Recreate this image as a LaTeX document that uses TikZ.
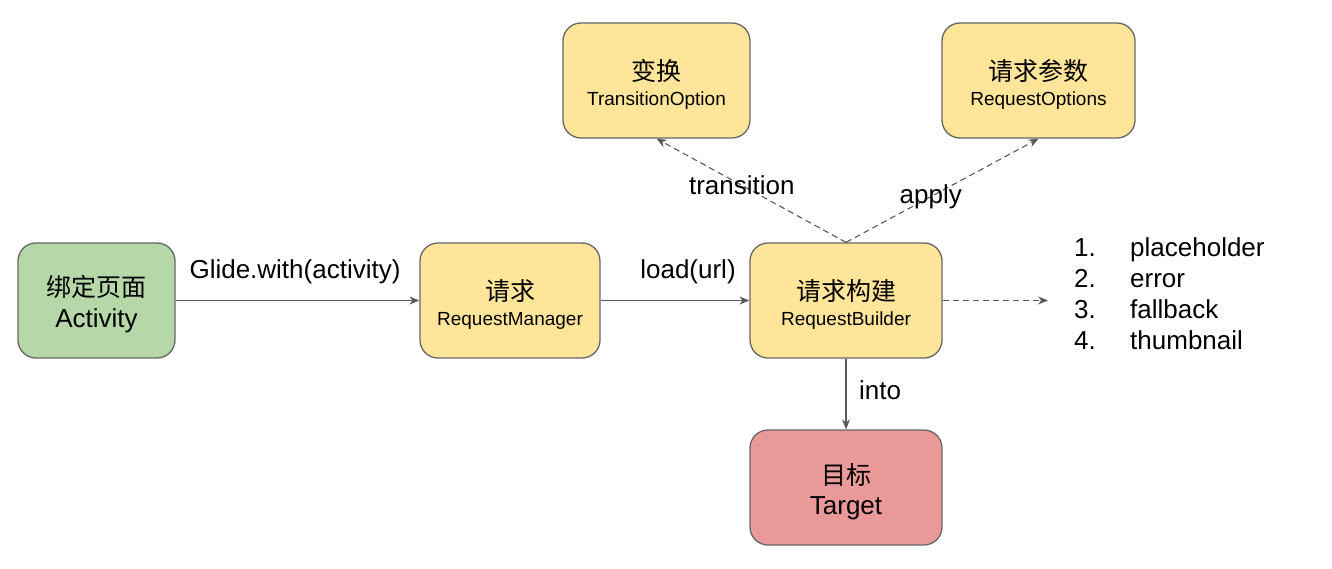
\documentclass[tikz,border=0pt]{standalone}
\usepackage{fontspec}
\setmainfont{Liberation Sans}
\newfontfamily\cjk{Noto Sans CJK SC}
\usetikzlibrary{arrows.meta}
\definecolor{gfill}{HTML}{B6D7A8}
\definecolor{yfill}{HTML}{FFE599}
\definecolor{rfill}{HTML}{EA9999}
\definecolor{edgec}{HTML}{595959}
\definecolor{linec}{HTML}{666666}
\newcommand\cjkl[1]{{\cjk\fontsize{25}{30}\selectfont\rule{0pt}{29pt}#1}}
\newcommand\smallt[1]{{\fontsize{19}{22}\selectfont #1}}
\newcommand\bigt[1]{{\fontsize{26}{30}\selectfont #1}}
\begin{document}
\begin{tikzpicture}[x=1pt,y=-1pt,
  box/.style={draw=linec, line width=1.3pt, rounded corners=18pt, align=center, inner sep=0pt, minimum height=115pt},
  conn/.style={draw=edgec, line width=1.1pt, -{Stealth[length=10pt,width=8pt]}},
  dconn/.style={conn, dash pattern=on 6pt off 4pt},
  lbl/.style={font=\fontsize{26}{30}\selectfont, inner sep=0pt, text=black},
  item/.style={font=\fontsize{26}{30}\selectfont, inner sep=0pt, anchor=base west}]
\useasboundingbox (0,0) rectangle (1332,568);
\node[box, fill=gfill, minimum width=157pt] (act) at (96.5,300.5) {\cjkl{绑定页面}\\[9pt]\bigt{Activity}};
\node[box, fill=yfill, minimum width=180pt] (rm) at (510,300.5) {\cjkl{请求}\\[9pt]\smallt{RequestManager}};
\node[box, fill=yfill, minimum width=192pt] (rb) at (846,300.5) {\cjkl{请求构建}\\[9pt]\smallt{RequestBuilder}};
\node[box, fill=rfill, minimum width=192pt] (tg) at (846,487.5) {\cjkl{目标}\\[9pt]\bigt{Target}};
\node[box, fill=yfill, minimum width=187pt] (to) at (656.5,80.5) {\cjkl{变换}\\[9pt]\smallt{TransitionOption}};
\node[box, fill=yfill, minimum width=193pt] (ro) at (1038.5,80.5) {\cjkl{请求参数}\\[9pt]\smallt{RequestOptions}};

\draw[conn] (act) -- (rm);
\node[lbl] (l1) at (295,272) {Glide.with(activity)};
\draw[conn] (rm) -- (rb);
\node[lbl] (l2) at (688,272) {load(url)};
\draw[conn] (rb) -- (tg);
\node[lbl] (l3) at (880,390) {into};
\draw[dconn] (rb.north) -- node[lbl, pos=0.55] (l4) {transition} (to.south);
\draw[dconn] (rb.north) -- node[lbl, pos=0.44] (l5) {apply} (ro.south);
\coordinate (lst) at (1048,300.5);
\draw[dconn] (rb.east) -- (lst);

\node[item] (n1) at (1074,256) {1.};
\node[item] (t1) at (1130,256) {placeholder};
\node[item] (n2) at (1074,287) {2.};
\node[item] (t2) at (1130,287) {error};
\node[item] (n3) at (1074,318) {3.};
\node[item] (t3) at (1130,318) {fallback};
\node[item] (n4) at (1074,349) {4.};
\node[item] (t4) at (1130,349) {thumbnail};
\end{tikzpicture}
\end{document}
